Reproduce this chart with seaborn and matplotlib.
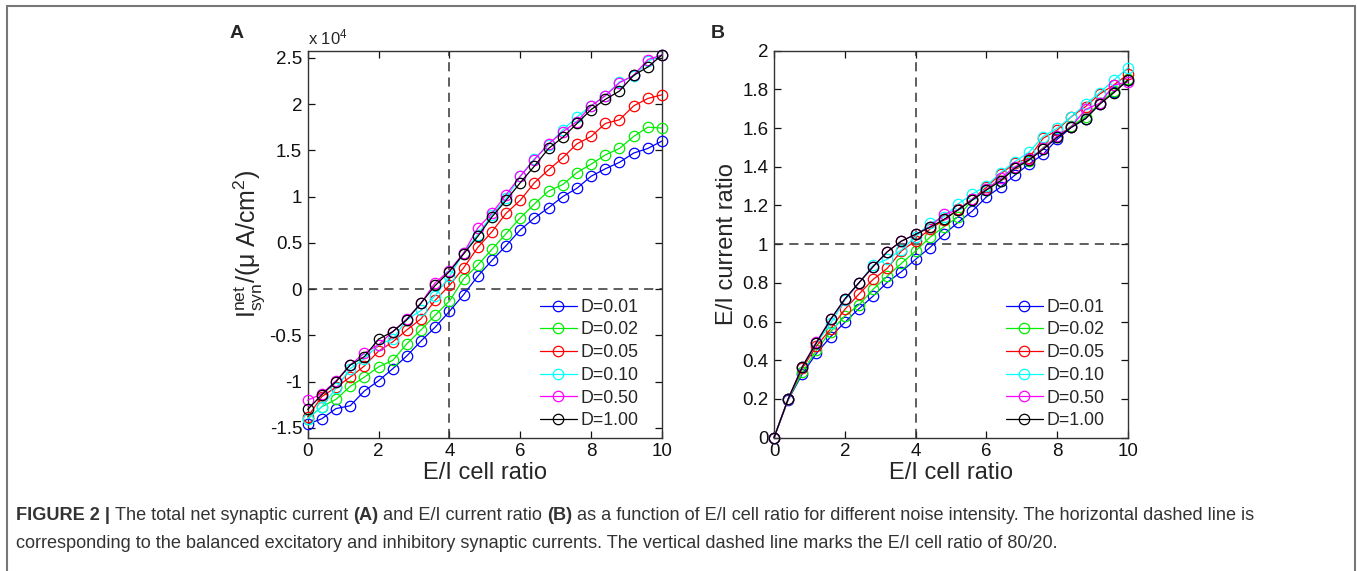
import numpy as np
import pandas as pd
import matplotlib
matplotlib.use("Agg")
import matplotlib.pyplot as plt
import seaborn as sns
from matplotlib.lines import Line2D

# E/I cell ratio (x) shared by both panels
ratio = [0.0, 0.4, 0.8, 1.2, 1.6, 2.0, 2.4, 2.8, 3.2, 3.6, 4.0, 4.4, 4.8,
         5.2, 5.6, 6.0, 6.4, 6.8, 7.2, 7.6, 8.0, 8.4, 8.8, 9.2, 9.6, 10.0]

noise_labels = ["D=0.01", "D=0.02", "D=0.05", "D=0.10", "D=0.50", "D=1.00"]
noise_colors = ["#0000ff", "#00ee00", "#ff0000", "#00ffff", "#ff00ff", "#000000"]

# panel A: net synaptic current, in units of 10^4 uA/cm^2
inet_d001 = [-1.46, -1.40, -1.29, -1.26, -1.10, -0.99, -0.86, -0.72, -0.56, -0.41, -0.24, -0.06, 0.14,
             0.31, 0.47, 0.64, 0.77, 0.88, 1.00, 1.09, 1.22, 1.30, 1.37, 1.47, 1.52, 1.60]
inet_d002 = [-1.40, -1.27, -1.19, -1.05, -0.95, -0.84, -0.77, -0.59, -0.44, -0.28, -0.13, 0.11, 0.26,
             0.43, 0.60, 0.77, 0.92, 1.06, 1.13, 1.26, 1.35, 1.45, 1.52, 1.65, 1.75, 1.74]
inet_d005 = [-1.38, -1.16, -1.06, -0.95, -0.83, -0.67, -0.57, -0.44, -0.32, -0.12, 0.04, 0.23, 0.45,
             0.62, 0.82, 0.96, 1.15, 1.29, 1.42, 1.57, 1.65, 1.79, 1.83, 1.98, 2.06, 2.10]
inet_d010 = [-1.40, -1.27, -1.07, -0.86, -0.75, -0.60, -0.54, -0.33, -0.23, -0.07, 0.14, 0.39, 0.59,
             0.80, 0.98, 1.22, 1.41, 1.56, 1.72, 1.86, 1.98, 2.09, 2.24, 2.30, 2.46, 2.53]
inet_d050 = [-1.20, -1.13, -0.99, -0.82, -0.69, -0.60, -0.46, -0.32, -0.15, 0.07, 0.20, 0.39, 0.66,
             0.82, 1.02, 1.22, 1.40, 1.57, 1.70, 1.81, 1.98, 2.09, 2.23, 2.31, 2.48, 2.53]
inet_d100 = [-1.30, -1.14, -1.00, -0.82, -0.73, -0.54, -0.46, -0.33, -0.15, 0.04, 0.19, 0.38, 0.57,
             0.78, 0.96, 1.15, 1.33, 1.52, 1.64, 1.79, 1.94, 2.05, 2.14, 2.31, 2.40, 2.53]

# panel B: E/I current ratio
ei_d001 = [0.0, 0.195, 0.33, 0.436, 0.522, 0.596, 0.667, 0.732, 0.803, 0.858, 0.922, 0.982, 1.051,
           1.113, 1.171, 1.244, 1.295, 1.356, 1.414, 1.464, 1.542, 1.604, 1.649, 1.724, 1.788, 1.848]
ei_d002 = [0.0, 0.198, 0.338, 0.453, 0.548, 0.629, 0.686, 0.767, 0.835, 0.901, 0.965, 1.035, 1.090,
           1.142, 1.228, 1.280, 1.326, 1.392, 1.432, 1.499, 1.556, 1.611, 1.659, 1.728, 1.792, 1.852]
ei_d005 = [0.0, 0.200, 0.358, 0.474, 0.562, 0.663, 0.742, 0.818, 0.875, 0.965, 1.018, 1.077, 1.125,
           1.180, 1.233, 1.294, 1.363, 1.418, 1.444, 1.547, 1.590, 1.659, 1.711, 1.776, 1.823, 1.878]
ei_d010 = [0.0, 0.200, 0.367, 0.487, 0.591, 0.711, 0.798, 0.892, 0.922, 0.970, 1.039, 1.108, 1.142,
           1.208, 1.259, 1.302, 1.369, 1.426, 1.475, 1.556, 1.599, 1.659, 1.724, 1.783, 1.848, 1.912]
ei_d050 = [0.0, 0.200, 0.367, 0.496, 0.612, 0.715, 0.801, 0.884, 0.961, 1.016, 1.051, 1.090, 1.154,
           1.177, 1.233, 1.283, 1.340, 1.400, 1.438, 1.495, 1.559, 1.607, 1.697, 1.728, 1.823, 1.838]
ei_d100 = [0.0, 0.200, 0.367, 0.491, 0.612, 0.717, 0.801, 0.884, 0.961, 1.016, 1.051, 1.087, 1.128,
           1.177, 1.228, 1.280, 1.328, 1.392, 1.435, 1.490, 1.552, 1.604, 1.649, 1.724, 1.783, 1.848]

inet_all = [inet_d001, inet_d002, inet_d005, inet_d010, inet_d050, inet_d100]
ei_all = [ei_d001, ei_d002, ei_d005, ei_d010, ei_d050, ei_d100]

rows = []
for lab, ys_a, ys_b in zip(noise_labels, inet_all, ei_all):
    for x, ya, yb in zip(ratio, ys_a, ys_b):
        rows.append({"ratio": x, "noise": lab, "inet": ya, "ei": yb})
df = pd.DataFrame(rows)

sns.set_style("ticks")
plt.rcParams["font.family"] = ["Liberation Sans", "DejaVu Sans"]
plt.rcParams["mathtext.fontset"] = "custom"
plt.rcParams["mathtext.rm"] = "Liberation Sans"
plt.rcParams["mathtext.it"] = "Liberation Sans"
plt.rcParams["mathtext.bf"] = "Liberation Sans:bold"

fig = plt.figure(figsize=(13.57, 5.71), dpi=100)
W, H = 1357, 571
ax_a = fig.add_axes([307.7 / W, 1 - 437.7 / H, 354.3 / W, 387 / H])
ax_b = fig.add_axes([774 / W, 1 - 437.7 / H, 354 / W, 387 / H])

palette = dict(zip(noise_labels, noise_colors))


def draw(ax, ycol):
    sns.lineplot(data=df, x="ratio", y=ycol, hue="noise", hue_order=noise_labels,
                 palette=palette, marker="o", markersize=7.5, mfc="none", mew=0.9,
                 linewidth=0.9, legend=False, ax=ax, zorder=3)
    for ln in ax.lines:
        ln.set_markeredgecolor(ln.get_color())
        ln.set_markerfacecolor("none")
        ln.set_clip_on(False)
    handles = [Line2D([], [], color=c, marker="o", mfc="none", mec=c, markersize=7.5,
                      lw=0.9, mew=0.9) for c in noise_colors]
    ax.legend(handles, noise_labels, loc="lower right", frameon=False, fontsize=12.8,
              handlelength=2.1, handletextpad=0.2, labelspacing=0.32,
              borderaxespad=0.4, borderpad=0.3,
              bbox_to_anchor=(1 - 11 / 354, -4 / 387))
    ax.axvline(4, color="#333333", ls=(0, (6, 4)), lw=1.1, zorder=1)
    for sp in ax.spines.values():
        sp.set_visible(True)
        sp.set_linewidth(1.0)
        sp.set_color("#333333")
    ax.tick_params(direction="in", top=True, right=True, length=5, width=0.9,
                   labelsize=13.5, colors="#111111", pad=4)
    ax.set_xlim(0, 10)
    ax.set_xticks([0, 2, 4, 6, 8, 10])
    ax.set_xticklabels(["0", "2", "4", "6", "8", "10"])
    ax.set_xlabel("E/I cell ratio", fontsize=17, labelpad=1)


draw(ax_a, "inet")
ax_a.axhline(0, color="#333333", ls=(0, (6, 4)), lw=1.1, zorder=1)
ax_a.set_ylim(-1.605, 2.576)
yt_a = [-1.5, -1, -0.5, 0, 0.5, 1, 1.5, 2, 2.5]
ax_a.set_yticks(yt_a)
ax_a.set_yticklabels(["-1.5", "-1", "-0.5", "0", "0.5", "1", "1.5", "2", "2.5"])
ax_a.set_ylabel(r"$\mathregular{I_{syn}^{net}/(\mu\ A/cm^2)}$", fontsize=18, labelpad=2)
ax_a.text(0.0, 1.008, r"x 10$^4$", transform=ax_a.transAxes, fontsize=12,
          ha="left", va="bottom")

draw(ax_b, "ei")
ax_b.axhline(1, color="#333333", ls=(0, (6, 4)), lw=1.1, zorder=1)
ax_b.set_ylim(0, 2)
yt_b = [0, 0.2, 0.4, 0.6, 0.8, 1, 1.2, 1.4, 1.6, 1.8, 2]
ax_b.set_yticks(yt_b)
ax_b.set_yticklabels(["0", "0.2", "0.4", "0.6", "0.8", "1", "1.2", "1.4", "1.6", "1.8", "2"])
ax_b.set_ylabel("E/I current ratio", fontsize=17, labelpad=3)

fig.text(237 / W, 1 - 33 / H, "A", fontsize=14, fontweight="bold", ha="center", va="center")
fig.text(718 / W, 1 - 33 / H, "B", fontsize=14, fontweight="bold", ha="center", va="center")

# outer frame (top, left, right)
frame_kw = dict(color="#777777", lw=1.5, transform=fig.transFigure)
fig.add_artist(Line2D([7 / W, 1355 / W], [1 - 6 / H, 1 - 6 / H], **frame_kw))
fig.add_artist(Line2D([7 / W, 7 / W], [0, 1 - 6 / H], **frame_kw))
fig.add_artist(Line2D([1355 / W, 1355 / W], [0, 1 - 6 / H], **frame_kw))

# caption, pieced together so that (A), (B) and the figure number are bold
cap_size = 13.1
line1 = [("FIGURE 2 | ", "bold"), ("The total net synaptic current ", "normal"), ("(A)", "bold"),
         (" and E/I current ratio ", "normal"), ("(B)", "bold"),
         (" as a function of E/I cell ratio for different noise intensity. "
          "The horizontal dashed line is", "normal")]
line2 = [("corresponding to the balanced excitatory and inhibitory synaptic currents. "
          "The vertical dashed line marks the E/I cell ratio of 80/20.", "normal")]
renderer = fig.canvas.get_renderer()
for parts, ypix in [(line1, 515), (line2, 543)]:
    xpix = 16
    for txt, wt in parts:
        t = fig.text(xpix / W, 1 - ypix / H, txt, fontsize=cap_size, fontweight=wt,
                     va="center", ha="left", color="#333333")
        bb = t.get_window_extent(renderer=renderer)
        xpix += bb.width

fig.savefig("out.png", dpi=100)
